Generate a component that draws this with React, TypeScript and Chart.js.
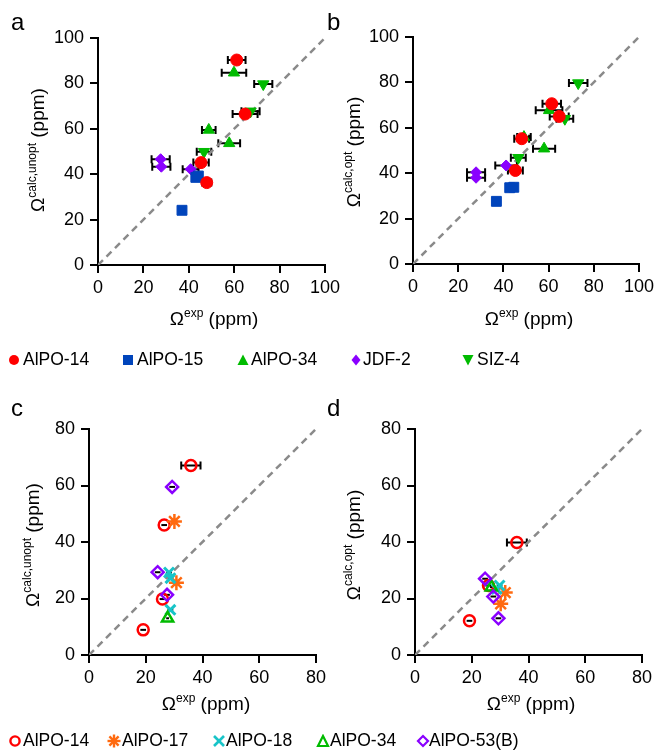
import React, { useEffect, useRef } from "react";
import { Chart, registerables } from "chart.js";
Chart.register(...registerables);

const FONT = "'Liberation Sans', Arial, Helvetica, sans-serif";

// Each entry: [Omega exp, Omega calc, x error]
// Panel a: calc,unopt
const aAlPO14 = [[61.1, 90.3, 3.9], [64.8, 66.5, 5.5], [45.4, 45.1, 3.4], [47.9, 36.3, 2]];
const aAlPO15 = [[37.0, 24.1, 0], [43.1, 38.6, 0], [44.2, 39.2, 0]];
const aAlPO34 = [[59.9, 84.7, 5.4], [48.8, 59.5, 3], [57.8, 53.6, 4.8]];
const aJDF2 = [[27.6, 46.6, 4], [27.9, 43.3, 4], [40.8, 42.2, 3.5]];
const aSIZ4 = [[72.8, 79.7, 4], [67.2, 67.7, 4], [46.7, 49.9, 3.2]];
// Panel b: calc,opt
const bAlPO14 = [[61.4, 70.6, 4.1], [64.7, 65.0, 4.2], [48.1, 55.2, 3.3], [45.3, 41.2, 3.3]];
const bAlPO15 = [[36.9, 27.6, 0], [42.8, 33.6, 0], [44.6, 33.8, 0]];
const bAlPO34 = [[60.2, 67.7, 5.9], [49.1, 55.9, 3], [58.0, 50.8, 4.9]];
const bJDF2 = [[27.9, 40.4, 4], [27.9, 38.0, 4], [41.2, 43.4, 4.8]];
const bSIZ4 = [[73.1, 79.7, 4.1], [67.2, 64.0, 3.7], [46.6, 46.8, 3.3]];
// Panel c: calc,unopt
const cAlPO14 = [[35.9, 67.1, 3.4], [26.5, 46.0, 1], [25.9, 19.8, 1], [19.1, 8.9, 1]];
const cAlPO17 = [[30.1, 47.3, 1], [30.8, 25.6, 1]];
const cAlPO18 = [[28.2, 29.2, 1], [28.7, 27.2, 1], [28.7, 16.0, 1]];
const cAlPO34 = [[27.7, 13.0, 0.5]];
const cAlPO53B = [[29.3, 59.5, 1], [24.2, 29.3, 1], [27.5, 21.3, 1]];
// Panel d: calc,opt
const dAlPO14 = [[35.9, 39.8, 3.5], [19.2, 12.1, 1], [25.9, 24.6, 1]];
const dAlPO17 = [[31.8, 22.1, 1], [30.2, 18.1, 1]];
const dAlPO18 = [[29.8, 24.6, 1], [28.8, 23.4, 1]];
const dAlPO34 = [[26.9, 24.0, 0.5]];
const dAlPO53B = [[24.7, 27.0, 1], [27.6, 20.7, 1], [29.4, 13.0, 1]];

const TOP_LEGEND = ["AlPO-14", "AlPO-15", "AlPO-34", "JDF-2", "SIZ-4"];
const BOTTOM_LEGEND = ["AlPO-14", "AlPO-17", "AlPO-18", "AlPO-34", "AlPO-53(B)"];
const TICKS_100 = [0, 20, 40, 60, 80, 100];
const TICKS_80 = [0, 20, 40, 60, 80];

const RED = "#ff0000";
const BLUE = "#0044bb";
const GREEN = "#00bb00";
const PURPLE = "#8a00ff";
const ORANGE = "#ff6a10";
const CYAN = "#18c4c8";

const toPts = (arr: number[][]) => arr.map(([x, y, e]) => ({ x, y, xerr: e }));

const errorBarPlugin = {
  id: "errorBars",
  beforeDatasetsDraw(chart: any) {
    const { ctx } = chart;
    const xs = chart.scales.x;
    const ys = chart.scales.y;
    ctx.save();
    ctx.strokeStyle = "#000";
    ctx.lineWidth = 2;
    chart.data.datasets.forEach((ds: any) => {
      (ds.data as any[]).forEach((p: any) => {
        if (!p.xerr) return;
        const x1 = xs.getPixelForValue(p.x - p.xerr);
        const x2 = xs.getPixelForValue(p.x + p.xerr);
        const y = ys.getPixelForValue(p.y);
        ctx.beginPath();
        ctx.moveTo(x1, y);
        ctx.lineTo(x2, y);
        if (p.xerr > 1.2) {
          ctx.moveTo(x1, y - 4);
          ctx.lineTo(x1, y + 4);
          ctx.moveTo(x2, y - 4);
          ctx.lineTo(x2, y + 4);
        }
        ctx.stroke();
      });
    });
    ctx.restore();
  },
};

function series(data: number[][], style: any) {
  return { data: toPts(data), ...style };
}

const filled = (color: string, pointStyle: string, radius: number, rotation = 0) => ({
  pointStyle,
  pointRadius: radius,
  pointRotation: rotation,
  backgroundColor: color,
  borderColor: color,
  pointBorderWidth: 1,
});
const open = (color: string, pointStyle: string, radius: number, bw = 2.5) => ({
  pointStyle,
  pointRadius: radius,
  backgroundColor: "rgba(0,0,0,0)",
  borderColor: color,
  pointBorderWidth: bw,
});

function diag(max: number) {
  return {
    data: [
      { x: 0, y: 0 },
      { x: max, y: max },
    ],
    showLine: true,
    borderColor: "#8a8a8a",
    borderWidth: 2.5,
    borderDash: [7, 5],
    pointRadius: 0,
  };
}

function makeConfig(
  datasets: any[],
  max: number,
  ticks: number[],
  padding: any,
  yWidth: number,
  xHeight: number
) {
  const axisCommon = {
    type: "linear",
    min: 0,
    max,
    afterBuildTicks: (s: any) => {
      s.ticks = ticks.map((v) => ({ value: v }));
    },
    grid: {
      drawOnChartArea: false,
      drawTicks: true,
      tickLength: 8,
      tickWidth: 2,
      tickColor: "#000",
      color: "#000",
      lineWidth: 2,
    },
    border: { display: true, color: "#000", width: 2 },
  };
  return {
    type: "scatter",
    data: { datasets },
    options: {
      animation: false,
      responsive: false,
      events: [],
      layout: { padding },
      plugins: { legend: { display: false }, tooltip: { enabled: false } },
      scales: {
        x: {
          ...axisCommon,
          ticks: { color: "#000", font: { family: FONT, size: 18 }, padding: 4, maxRotation: 0 },
          afterFit: (s: any) => {
            s.height = xHeight;
          },
        },
        y: {
          ...axisCommon,
          ticks: { color: "#000", font: { family: FONT, size: 18 }, padding: 6 },
          afterFit: (s: any) => {
            s.width = yWidth;
          },
        },
      },
    },
    plugins: [errorBarPlugin],
  };
}

function topSets(p14: number[][], p15: number[][], p34: number[][], jdf: number[][], siz: number[][]) {
  return [
    series(p14, filled(RED, "circle", 6)),
    series(siz, filled(GREEN, "triangle", 6.5, 180)),
    series(p34, filled(GREEN, "triangle", 6.5)),
    series(p15, filled(BLUE, "rect", 7)),
    series(jdf, filled(PURPLE, "rectRot", 5.5)),
    diag(100),
  ];
}

function bottomSets(p14: number[][], p17: number[][], p18: number[][], p34: number[][], p53: number[][]) {
  return [
    series(p53, open(PURPLE, "rectRot", 6)),
    series(p34, open(GREEN, "triangle", 6.5)),
    series(p18, open(CYAN, "crossRot", 7, 3)),
    series(p17, open(ORANGE, "star", 7.5, 2.5)),
    series(p14, open(RED, "circle", 5.5)),
    diag(80),
  ];
}

type PanelProps = { left: number; top: number; width: number; height: number; config: any };

function Panel({ left, top, width, height, config }: PanelProps) {
  const ref = useRef<HTMLCanvasElement>(null);
  useEffect(() => {
    if (!ref.current) return;
    const chart = new Chart(ref.current, config);
    return () => chart.destroy();
  }, [config]);
  return (
    <canvas
      ref={ref}
      width={width}
      height={height}
      style={{ position: "absolute", left, top, width, height }}
    />
  );
}

const textBase: React.CSSProperties = {
  position: "absolute",
  fontFamily: FONT,
  fontSize: 17,
  color: "#000",
  whiteSpace: "nowrap",
  lineHeight: 1,
};

function Omega({ sup }: { sup: string }) {
  return (
    <span>
      Ω
      <span style={{ fontSize: 12, position: "relative", top: -8 }}>{sup}</span> (ppm)
    </span>
  );
}

function XTitle({ cx, cy }: { cx: number; cy: number }) {
  return (
    <div style={{ ...textBase, fontSize: 19, left: cx, top: cy, transform: "translate(-50%, -50%)" }}>
      <Omega sup="exp" />
    </div>
  );
}

function YTitle({ cx, cy, sup }: { cx: number; cy: number; sup: string }) {
  return (
    <div
      style={{
        ...textBase,
        fontSize: 19,
        left: cx,
        top: cy,
        transform: "translate(-50%, -50%) rotate(-90deg)",
      }}
    >
      <Omega sup={sup} />
    </div>
  );
}

function Marker({ kind }: { kind: string }) {
  const s = 14;
  let el: any = null;
  switch (kind) {
    case "fcircle":
      el = <circle cx={7} cy={7} r={5} fill={RED} />;
      break;
    case "fsquare":
      el = <rect x={2} y={2} width={10} height={10} fill={BLUE} />;
      break;
    case "ftri":
      el = <polygon points="7,1.5 12.5,12 1.5,12" fill={GREEN} />;
      break;
    case "fdiamond":
      el = <polygon points="7,1.5 11.5,7 7,12.5 2.5,7" fill={PURPLE} />;
      break;
    case "fdown":
      el = <polygon points="1.5,2 12.5,2 7,12.5" fill={GREEN} />;
      break;
    case "ocircle":
      el = <circle cx={7} cy={7} r={4.6} fill="none" stroke={RED} strokeWidth={2.4} />;
      break;
    case "star":
      el = (
        <g stroke={ORANGE} strokeWidth={2.4}>
          <line x1={7} y1={0.5} x2={7} y2={13.5} />
          <line x1={0.5} y1={7} x2={13.5} y2={7} />
          <line x1={2.4} y1={2.4} x2={11.6} y2={11.6} />
          <line x1={11.6} y1={2.4} x2={2.4} y2={11.6} />
        </g>
      );
      break;
    case "x":
      el = (
        <g stroke={CYAN} strokeWidth={2.6}>
          <line x1={2} y1={2} x2={12} y2={12} />
          <line x1={12} y1={2} x2={2} y2={12} />
        </g>
      );
      break;
    case "otri":
      el = <polygon points="7,2 12,12 2,12" fill="none" stroke={GREEN} strokeWidth={2.2} />;
      break;
    case "odiamond":
      el = <polygon points="7,2 12,7 7,12 2,7" fill="none" stroke={PURPLE} strokeWidth={2.2} />;
      break;
  }
  return (
    <svg width={s} height={s} style={{ display: "block" }}>
      {el}
    </svg>
  );
}

function LegendItem({ mx, tx, cy, kind, label }: { mx: number; tx: number; cy: number; kind: string; label: string }) {
  return (
    <>
      <div style={{ position: "absolute", left: mx - 7, top: cy - 7 }}>
        <Marker kind={kind} />
      </div>
      <div style={{ ...textBase, fontSize: 17.5, left: tx, top: cy, transform: "translateY(-50%)" }}>{label}</div>
    </>
  );
}

const cfgA = makeConfig(topSets(aAlPO14, aAlPO15, aAlPO34, aJDF2, aSIZ4), 100, TICKS_100, { left: 0, top: 38, right: 20, bottom: 0 }, 98, 55);
const cfgB = makeConfig(topSets(bAlPO14, bAlPO15, bAlPO34, bJDF2, bSIZ4), 100, TICKS_100, { left: 0, top: 37, right: 22, bottom: 0 }, 68, 56);
const cfgC = makeConfig(bottomSets(cAlPO14, cAlPO17, cAlPO18, cAlPO34, cAlPO53B), 80, TICKS_80, { left: 0, top: 29, right: 29, bottom: 0 }, 89, 101);
const cfgD = makeConfig(bottomSets(dAlPO14, dAlPO17, dAlPO18, dAlPO34, dAlPO53B), 80, TICKS_80, { left: 0, top: 29, right: 19, bottom: 0 }, 70, 101);

const topKinds = ["fcircle", "fsquare", "ftri", "fdiamond", "fdown"];
const topMx = [14, 128, 243, 356, 468];
const topTx = [23, 137, 251, 363, 477];
const botKinds = ["ocircle", "star", "x", "otri", "odiamond"];
const botMx = [15, 114, 219, 323, 423];
const botTx = [23, 122, 226, 330, 429];

export default function App() {
  return (
    <div
      style={{
        position: "absolute",
        left: 0,
        top: 0,
        width: 661,
        height: 756,
        background: "#fff",
        overflow: "hidden",
      }}
    >
      <Panel left={0} top={0} width={345} height={320} config={cfgA} />
      <Panel left={345} top={0} width={316} height={320} config={cfgB} />
      <Panel left={0} top={400} width={345} height={356} config={cfgC} />
      <Panel left={345} top={400} width={316} height={356} config={cfgD} />

      <div style={{ ...textBase, fontSize: 24, left: 11, top: 10 }}>a</div>
      <div style={{ ...textBase, fontSize: 24, left: 327, top: 10 }}>b</div>
      <div style={{ ...textBase, fontSize: 24, left: 11, top: 396 }}>c</div>
      <div style={{ ...textBase, fontSize: 24, left: 327, top: 396 }}>d</div>

      <YTitle cx={37} cy={150} sup="calc,unopt" />
      <YTitle cx={353} cy={152} sup="calc,opt" />
      <YTitle cx={32} cy={545} sup="calc,unopt" />
      <YTitle cx={353} cy={545} sup="calc,opt" />

      <XTitle cx={214} cy={318} />
      <XTitle cx={529} cy={318} />
      <XTitle cx={206} cy={703} />
      <XTitle cx={531} cy={703} />

      {TOP_LEGEND.map((l, i) => (
        <LegendItem key={"t" + i} mx={topMx[i]} tx={topTx[i]} cy={360} kind={topKinds[i]} label={l} />
      ))}
      {BOTTOM_LEGEND.map((l, i) => (
        <LegendItem key={"b" + i} mx={botMx[i]} tx={botTx[i]} cy={741} kind={botKinds[i]} label={l} />
      ))}
    </div>
  );
}
